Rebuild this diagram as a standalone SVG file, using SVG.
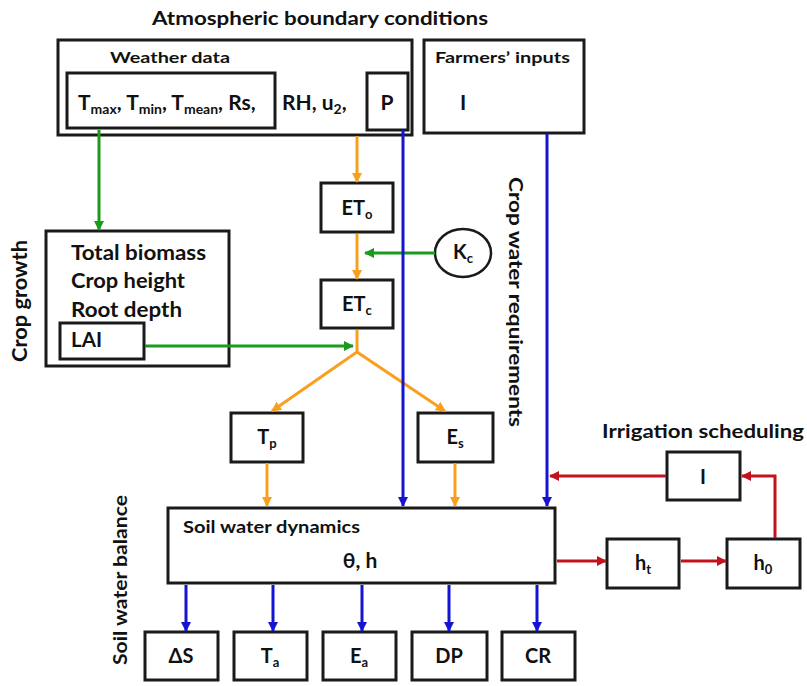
<svg xmlns="http://www.w3.org/2000/svg" width="807" height="686" viewBox="0 0 807 686">
<style>
.box{fill:#fff;stroke:#1a1a1a;stroke-width:3}
.t{font-family:Lato,"Open Sans","Liberation Sans",sans-serif;font-weight:bold;fill:#111}
.c{stroke-width:3;fill:none}
.o{stroke:#F8A01E}
.g{stroke:#1B9A1B}
.b{stroke:#1414D2}
.r{stroke:#C4121C}
</style>
<defs>
<marker id="ao" markerWidth="10" markerHeight="10" refX="9" refY="5" orient="auto" markerUnits="userSpaceOnUse"><path d="M0,0 L10,5 L0,10 z" fill="#F8A01E"/></marker>
<marker id="ag" markerWidth="10" markerHeight="10" refX="9" refY="5" orient="auto" markerUnits="userSpaceOnUse"><path d="M0,0 L10,5 L0,10 z" fill="#1B9A1B"/></marker>
<marker id="ab" markerWidth="10" markerHeight="10" refX="9" refY="5" orient="auto" markerUnits="userSpaceOnUse"><path d="M0,0 L10,5 L0,10 z" fill="#1414D2"/></marker>
<marker id="ar" markerWidth="10" markerHeight="10" refX="9" refY="5" orient="auto" markerUnits="userSpaceOnUse"><path d="M0,0 L10,5 L0,10 z" fill="#C4121C"/></marker>
</defs>
<rect width="807" height="686" fill="#fff"/>

<text class="t" x="152" y="25" font-size="19" textLength="336" lengthAdjust="spacingAndGlyphs">Atmospheric boundary conditions</text>
<text class="t" x="27" y="301" font-size="20" text-anchor="middle" transform="rotate(-90 27 301)" textLength="122" lengthAdjust="spacingAndGlyphs">Crop growth</text>
<text class="t" x="509" y="302" font-size="19" text-anchor="middle" transform="rotate(90 509 302)" textLength="250" lengthAdjust="spacingAndGlyphs">Crop water requirements</text>
<text class="t" x="127" y="580" font-size="19" text-anchor="middle" transform="rotate(-90 127 580)" textLength="170" lengthAdjust="spacingAndGlyphs">Soil water balance</text>
<text class="t" x="602" y="438" font-size="19" textLength="202" lengthAdjust="spacingAndGlyphs">Irrigation scheduling</text>

<g id="weather">
<rect class="box" x="58" y="40" width="354" height="95"/>
<text class="t" x="110" y="63" font-size="16" textLength="120" lengthAdjust="spacingAndGlyphs">Weather data</text>
<rect class="box" x="67" y="73" width="208" height="55"/>
<text class="t" x="78" y="110" font-size="21">T<tspan font-size="14" dy="4">max</tspan><tspan dy="-4">, T</tspan><tspan font-size="14" dy="4">min</tspan><tspan dy="-4">, T</tspan><tspan font-size="14" dy="4">mean</tspan><tspan dy="-4">, Rs,</tspan></text>
<text class="t" x="282" y="110" font-size="21">RH, u<tspan font-size="14" dy="4">2</tspan><tspan dy="-4">,</tspan></text>
<rect class="box" x="367" y="73" width="41" height="57"/>
<text class="t" x="387" y="110" font-size="21" text-anchor="middle">P</text>
</g>

<g id="farmers">
<rect class="box" x="424" y="40" width="160" height="93"/>
<text class="t" x="435" y="63" font-size="16" textLength="135" lengthAdjust="spacingAndGlyphs">Farmers’ inputs</text>
<text class="t" x="460" y="110" font-size="21">I</text>
</g>

<g id="cropgrowth">
<rect class="box" x="46" y="231" width="183" height="135"/>
<text class="t" x="71" y="260" font-size="21" textLength="135" lengthAdjust="spacingAndGlyphs">Total biomass</text>
<text class="t" x="71" y="288" font-size="21" textLength="114" lengthAdjust="spacingAndGlyphs">Crop height</text>
<text class="t" x="71" y="317" font-size="21" textLength="111" lengthAdjust="spacingAndGlyphs">Root depth</text>
<rect class="box" x="60" y="323" width="84" height="36"/>
<text class="t" x="71" y="347" font-size="21" textLength="31" lengthAdjust="spacingAndGlyphs">LAI</text>
</g>

<g id="ETo">
<rect class="box" x="321" y="183" width="72" height="49"/>
<text class="t" x="357" y="215" font-size="20" text-anchor="middle">ET<tspan font-size="13" dy="4">o</tspan></text>
</g>
<g id="ETc">
<rect class="box" x="321" y="280" width="72" height="48"/>
<text class="t" x="357" y="311" font-size="20" text-anchor="middle">ET<tspan font-size="13" dy="4">c</tspan></text>
</g>
<g id="Kc">
<ellipse cx="463" cy="253" rx="28" ry="24" fill="#fff" stroke="#1a1a1a" stroke-width="2.5"/>
<text class="t" x="463" y="259" font-size="20" text-anchor="middle">K<tspan font-size="13" dy="4">c</tspan></text>
</g>
<g id="Tp">
<rect class="box" x="231" y="413" width="72" height="49"/>
<text class="t" x="267" y="444" font-size="20" text-anchor="middle">T<tspan font-size="13" dy="4">p</tspan></text>
</g>
<g id="Es">
<rect class="box" x="418" y="413" width="75" height="49"/>
<text class="t" x="455" y="444" font-size="20" text-anchor="middle">E<tspan font-size="13" dy="4">s</tspan></text>
</g>

<g id="soil">
<rect class="box" x="168" y="508" width="387" height="75"/>
<text class="t" x="183" y="533" font-size="17" textLength="177" lengthAdjust="spacingAndGlyphs">Soil water dynamics</text>
<text class="t" x="360" y="568" font-size="21" text-anchor="middle">θ, h</text>
</g>

<g id="dS"><rect class="box" x="145" y="632" width="73" height="48"/><text class="t" x="181" y="663" font-size="20" text-anchor="middle">ΔS</text></g>
<g id="Ta"><rect class="box" x="234" y="632" width="73" height="48"/><text class="t" x="270" y="663" font-size="20" text-anchor="middle">T<tspan font-size="13" dy="4">a</tspan></text></g>
<g id="Ea"><rect class="box" x="323" y="632" width="73" height="48"/><text class="t" x="359" y="663" font-size="20" text-anchor="middle">E<tspan font-size="13" dy="4">a</tspan></text></g>
<g id="DP"><rect class="box" x="412" y="632" width="75" height="48"/><text class="t" x="449" y="663" font-size="20" text-anchor="middle">DP</text></g>
<g id="CR"><rect class="box" x="502" y="632" width="73" height="48"/><text class="t" x="538" y="663" font-size="20" text-anchor="middle">CR</text></g>

<g id="ht"><rect class="box" x="607" y="539" width="72" height="49"/><text class="t" x="643" y="570" font-size="20" text-anchor="middle">h<tspan font-size="13" dy="4">t</tspan></text></g>
<g id="h0"><rect class="box" x="727" y="539" width="73" height="49"/><text class="t" x="763" y="570" font-size="20" text-anchor="middle">h<tspan font-size="13" dy="4">0</tspan></text></g>
<g id="Iirr"><rect class="box" x="667" y="452" width="73" height="48"/><text class="t" x="703" y="484" font-size="20" text-anchor="middle">I</text></g>

<g id="connectors">
<path class="c g" d="M99,130 V230" marker-end="url(#ag)"/>
<path class="c o" d="M357,136 V182" marker-end="url(#ao)"/>
<path class="c o" d="M357,234 V279" marker-end="url(#ao)"/>
<path class="c g" d="M435,253 H365" marker-end="url(#ag)"/>
<path class="c g" d="M145,346 H353" marker-end="url(#ag)"/>
<path class="c o" d="M357,330 V352 L272,411" marker-end="url(#ao)"/>
<path class="c o" d="M357,352 L445,411" marker-end="url(#ao)"/>
<path class="c o" d="M267,463 V506" marker-end="url(#ao)"/>
<path class="c o" d="M455,463 V506" marker-end="url(#ao)"/>
<path class="c b" d="M403,130 V506" marker-end="url(#ab)"/>
<path class="c b" d="M547,134 V506" marker-end="url(#ab)"/>
<path class="c b" d="M186,585 V631" marker-end="url(#ab)"/>
<path class="c b" d="M273,585 V631" marker-end="url(#ab)"/>
<path class="c b" d="M362,585 V631" marker-end="url(#ab)"/>
<path class="c b" d="M449,585 V631" marker-end="url(#ab)"/>
<path class="c b" d="M537,585 V631" marker-end="url(#ab)"/>
<path class="c r" d="M557,561 H606" marker-end="url(#ar)"/>
<path class="c r" d="M681,561 H726" marker-end="url(#ar)"/>
<path class="c r" d="M775,538 V476 H742" marker-end="url(#ar)"/>
<path class="c r" d="M666,476 H550" marker-end="url(#ar)"/>
</g>
</svg>
